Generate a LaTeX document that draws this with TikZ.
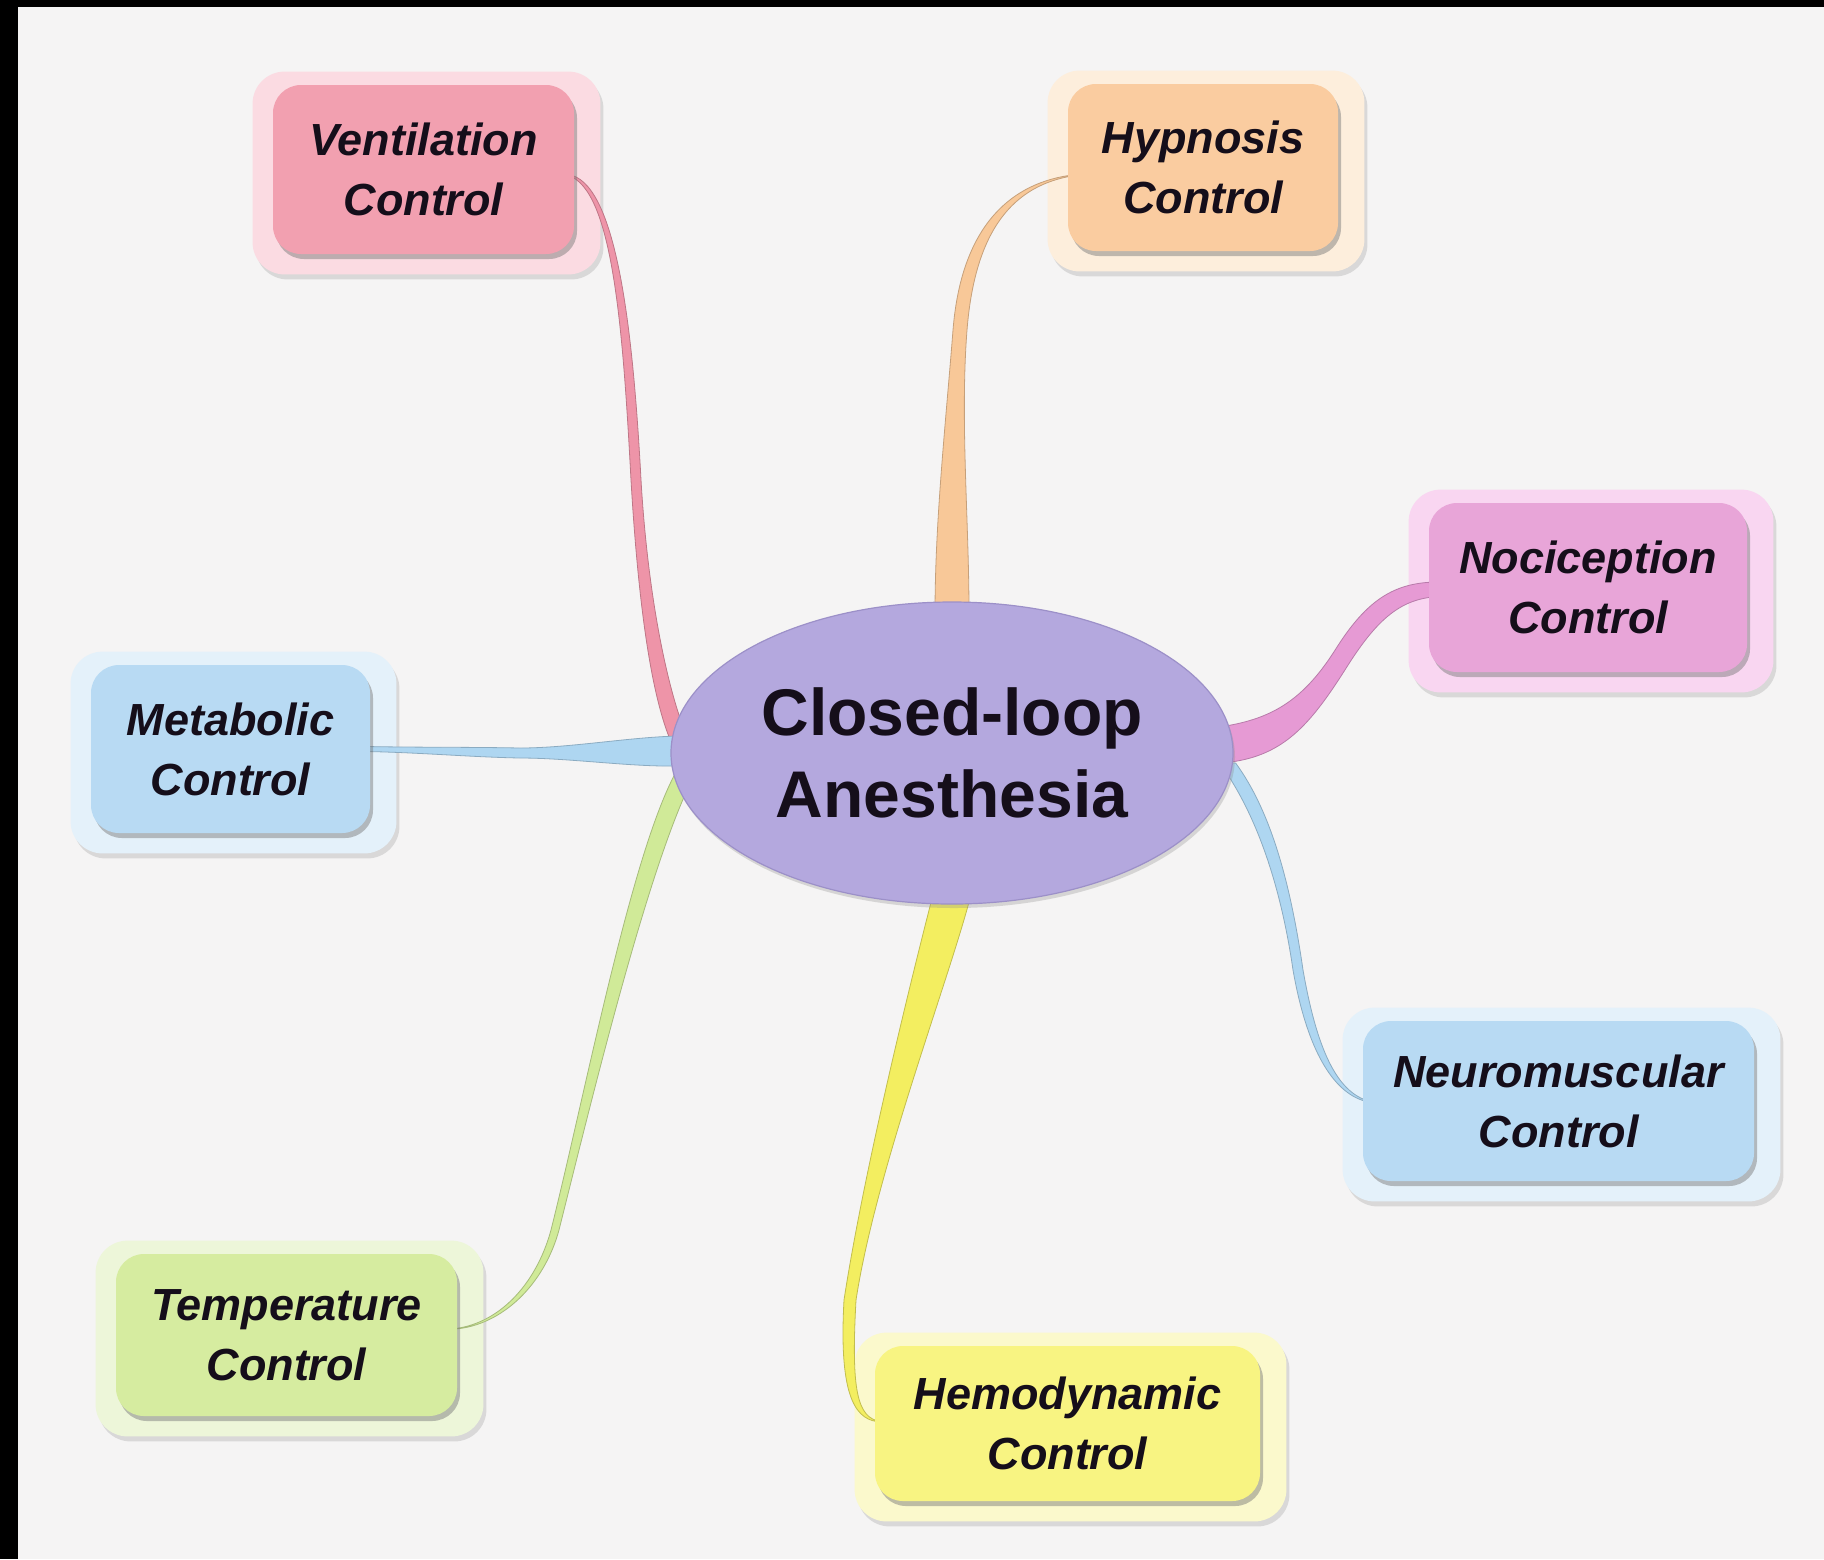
\documentclass[tikz,border=0pt]{standalone}
\usepackage{fontspec}
\setmainfont{Liberation Sans}
\usetikzlibrary{shapes.geometric,shadows,calc}

\definecolor{paper}{HTML}{F5F4F4}
\definecolor{ink}{HTML}{150E1A}
\definecolor{hubfill}{HTML}{B4A8DE}
\definecolor{hubline}{HTML}{9C90C8}
% inner / halo / link colours
\definecolor{ventin}{HTML}{F2A0B0}\definecolor{venthalo}{HTML}{FBDBE2}\definecolor{ventlink}{HTML}{EE94A8}
\definecolor{hypin}{HTML}{FACCA0}\definecolor{hyphalo}{HTML}{FDEEDC}\definecolor{hyplink}{HTML}{F8C898}
\definecolor{nocin}{HTML}{E8A5D8}\definecolor{nochalo}{HTML}{F9D6F1}\definecolor{noclink}{HTML}{E69AD4}
\definecolor{bluein}{HTML}{B8DAF3}\definecolor{bluehalo}{HTML}{E4F1FA}\definecolor{bluelink}{HTML}{AED6F1}
\definecolor{tempin}{HTML}{D6ECA0}\definecolor{temphalo}{HTML}{EDF6D9}\definecolor{templink}{HTML}{D0EA98}
\definecolor{hemin}{HTML}{F8F482}\definecolor{hemhalo}{HTML}{FBF9CC}\definecolor{hemlink}{HTML}{F3EE60}

\pgfdeclarelayer{backdrop}
\pgfdeclarelayer{halo}
\pgfdeclarelayer{links}
\pgfsetlayers{backdrop,halo,links,main}

\tikzset{
  ctl/.style={rectangle, rounded corners=14pt, fill=#1, inner sep=0pt,
    align=center, text=ink,
    font=\bfseries\itshape\fontsize{22.5}{30}\selectfont,
    drop shadow={shadow xshift=1.5pt, shadow yshift=-2.5pt, fill=black!55, opacity=0.45}},
  haloshape/.style={rounded corners=16pt, fill=#1,
    drop shadow={shadow xshift=1.5pt, shadow yshift=-2.5pt, fill=black!40, opacity=0.3}},
  hub/.style={ellipse, fill=hubfill, draw=hubline, line width=0.6pt, inner sep=0pt,
    minimum width=281pt, minimum height=151pt, align=center, text=ink,
    font=\bfseries\fontsize{33}{41}\selectfont,
    drop shadow={shadow xshift=1pt, shadow yshift=-2pt, fill=black!45, opacity=0.3}},
}

% control box: name, centre, width, height (pt), inner colour, halo colour, text
\newcommand\ctlbox[7]{%
  \node[ctl=#5, minimum width=#3, minimum height=#4] (#1) at #2 {#7};
  \begin{pgfonlayer}{halo}
    \path[haloshape=#6] ($(#1.north west)+(-20,-13)$) rectangle ($(#1.south east)+(26,20)$);
  \end{pgfonlayer}}

% tapering link: colour, unit normal, start, c1, c2, mid, c3, c4, end
\newcommand\rws{1.5}\newcommand\rwm{4}\newcommand\rwe{8}
\newcommand\ribbon[9]{%
  \fill[#1, draw=#1!80!black, line width=0.4pt]
    ($#3-\rws*#2$) .. controls ($#4-\rws*#2$) and ($#5-\rwm*#2$) .. ($#6-\rwm*#2$)
    .. controls ($#7-\rwm*#2$) and ($#8-\rwe*#2$) .. ($#9-\rwe*#2$)
    -- ($#9+\rwe*#2$)
    .. controls ($#8+\rwe*#2$) and ($#7+\rwm*#2$) .. ($#6+\rwm*#2$)
    .. controls ($#5+\rwm*#2$) and ($#4+\rws*#2$) .. ($#3+\rws*#2$) -- cycle;}

\begin{document}
\begin{tikzpicture}[x=0.5pt, y=-0.5pt]
  \useasboundingbox (0,0) rectangle (1824,1559);
  \begin{pgfonlayer}{backdrop}
    \fill[paper] (0,0) rectangle (1824,1559);
    \fill[black] (0,0) rectangle (18,1559);
    \fill[black] (0,0) rectangle (1824,7);
  \end{pgfonlayer}

  % hub
  \node[hub] (cl) at (952,753) {Closed-loop\\Anesthesia};

  % control boxes
  \ctlbox{vent}{(423.5,169.5)}{150.5pt}{84.5pt}{ventin}{venthalo}{Ventilation\\Control}
  \ctlbox{hyp}{(1203,167.5)}{135pt}{83.5pt}{hypin}{hyphalo}{Hypnosis\\Control}
  \ctlbox{noc}{(1588,587.5)}{159pt}{84.5pt}{nocin}{nochalo}{Nociception\\Control}
  \ctlbox{nm}{(1558.5,1101)}{195.5pt}{80pt}{bluein}{bluehalo}{Neuromuscular\\Control}
  \ctlbox{met}{(230.5,749)}{139.5pt}{84pt}{bluein}{bluehalo}{Metabolic\\Control}
  \ctlbox{temp}{(286.5,1335)}{170.5pt}{81pt}{tempin}{temphalo}{Temperature\\Control}
  \ctlbox{hem}{(1067.5,1423.5)}{192.5pt}{77.5pt}{hemin}{hemhalo}{Hemodynamic\\Control}

  % link end points
  \coordinate (v0) at ($(vent.east)+(-4,6)$);
  \coordinate (v2) at ($(cl.west)+(12,-6)$);
  \coordinate (h0) at ($(hyp.west)+(4,8)$);
  \coordinate (h2) at ($(cl.north)+(0,12)$);
  \coordinate (n0) at ($(noc.west)+(4,2)$);
  \coordinate (n2) at ($(cl.east)+(-12,-8)$);
  \coordinate (m0) at ($(nm.west)+(4,0)$);
  \coordinate (m2) at ($(cl.east)+(-6,10)$);
  \coordinate (b0) at ($(met.east)+(-4,0)$);
  \coordinate (b2) at ($(cl.west)+(8,-2)$);
  \coordinate (t0) at ($(temp.east)+(-4,-6)$);
  \coordinate (t2) at ($(cl.west)+(14,22)$);
  \coordinate (y0) at ($(hem.west)+(4,-2)$);
  \coordinate (y2) at ($(cl.south)+(0,-10)$);

  \begin{pgfonlayer}{links}
    \renewcommand\rws{2}\renewcommand\rwm{5}\renewcommand\rwe{9}
    \ribbon{ventlink}{(1,0)}{(v0)}{(615,190)}{(628,330)}{(636,480)}{(643,600)}{(660,700)}{(v2)}
    \renewcommand\rws{3}\renewcommand\rwm{7}\renewcommand\rwe{17}
    \ribbon{hyplink}{(1,0)}{(h0)}{(1010,185)}{(968,230)}{(960,330)}{(953,420)}{(952,520)}{(h2)}
    \renewcommand\rws{8}\renewcommand\rwm{11}\renewcommand\rwe{19}
    \ribbon{noclink}{(0.45,0.9)}{(n0)}{(1395,592)}{(1370,612)}{(1340,660)}{(1305,715)}{(1275,738)}{(n2)}
    \renewcommand\rws{2}\renewcommand\rwm{5}\renewcommand\rwe{8}
    \ribbon{bluelink}{(1,0)}{(m0)}{(1335,1092)}{(1312,1050)}{(1298,970)}{(1285,880)}{(1262,810)}{(m2)}
    \renewcommand\rws{2.5}\renewcommand\rwm{5}\renewcommand\rwe{15}
    \ribbon{bluelink}{(0,1)}{(b0)}{(420,750)}{(470,752)}{(520,753)}{(570,753)}{(630,752)}{(b2)}
    \renewcommand\rws{2}\renewcommand\rwm{4}\renewcommand\rwe{10}
    \ribbon{templink}{(1,0)}{(t0)}{(500,1325)}{(540,1285)}{(555,1230)}{(590,1090)}{(640,860)}{(t2)}
    \renewcommand\rws{2}\renewcommand\rwm{6}\renewcommand\rwe{19}
    \ribbon{hemlink}{(1,0)}{(y0)}{(855,1418)}{(845,1390)}{(850,1300)}{(870,1170)}{(930,980)}{(y2)}
  \end{pgfonlayer}
\end{tikzpicture}
\end{document}
